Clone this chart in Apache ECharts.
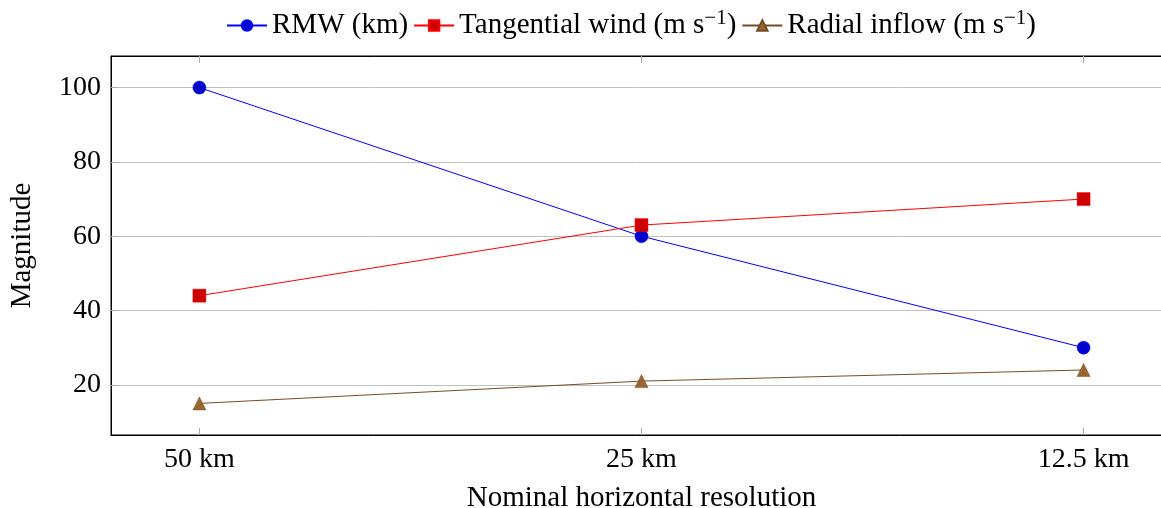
<!DOCTYPE html>
<html>
<head>
<meta charset="utf-8">
<script src="https://cdn.jsdelivr.net/npm/echarts@6/dist/echarts.min.js"></script>
<style>html,body{margin:0;padding:0;background:#fff;}#c{width:1161px;height:508px;}</style>
</head>
<body>
<div id="c"></div>
<script>
const categories = ['50 km', '25 km', '12.5 km'];
const rmw = [100, 60, 30];
const tangential = [44, 63, 70];
const radial = [15, 21, 24];
const yTicks = [20, 40, 60, 80, 100];
const xTicks = [0, 1, 2];

const FONT = 'Liberation Serif';
const chart = echarts.init(document.getElementById('c'));
const toPts = arr => arr.map((v, i) => [i, v]);
const rich = { sup: { fontFamily: FONT, fontSize: 21, color: '#000', verticalAlign: 'top', padding: [0, 0, 14, 0] } };

chart.setOption({
  animation: false,
  backgroundColor: '#fff',
  legend: {
    top: 3,
    left: 221,
    itemWidth: 40,
    itemHeight: 13,
    itemGap: 5,
    textStyle: { fontFamily: FONT, fontSize: 29, color: '#000', rich: rich },
    formatter: function (name) {
      if (name === 'RMW (km)') return name;
      return name.replace(' s)', ' s{sup|−1})');
    },
    data: ['RMW (km)', 'Tangential wind (m s)', 'Radial inflow (m s)']
  },
  grid: { left: 111, right: -11, top: 56, bottom: 73, show: true, borderColor: '#000', borderWidth: 1, backgroundColor: 'transparent', outerBoundsMode: 'none', containLabel: false },
  xAxis: [{
    type: 'value', min: -0.2, max: 2.2,
    name: 'Nominal horizontal resolution', nameLocation: 'middle', nameGap: 49,
    nameTextStyle: { fontFamily: FONT, fontSize: 29, color: '#000' },
    axisLine: { show: true, onZero: false, lineStyle: { color: '#000', width: 1 } },
    axisTick: { show: true, inside: true, length: 7, customValues: xTicks, lineStyle: { color: '#aaa' } },
    axisLabel: { customValues: xTicks, fontFamily: FONT, fontSize: 28, color: '#000', margin: 11,
      formatter: v => categories[Math.round(v)] },
    splitLine: { show: false }
  }, {
    type: 'value', min: -0.2, max: 2.2, position: 'top',
    axisLine: { show: true, onZero: false, lineStyle: { color: '#000', width: 1 } },
    axisTick: { show: true, inside: true, length: 7, customValues: xTicks, lineStyle: { color: '#aaa' } },
    axisLabel: { show: false },
    splitLine: { show: false }
  }],
  yAxis: {
    type: 'value', min: 6.5, max: 108.5,
    name: 'Magnitude', nameLocation: 'middle', nameGap: 74, nameRotate: 90,
    nameTextStyle: { fontFamily: FONT, fontSize: 29, color: '#000' },
    axisLine: { show: true, onZero: false, lineStyle: { color: '#000', width: 1 } },
    axisTick: { show: true, inside: true, length: 7, customValues: yTicks, lineStyle: { color: '#aaa' } },
    axisLabel: { customValues: yTicks, fontFamily: FONT, fontSize: 28, color: '#000', margin: 10 },
    splitLine: { show: true, lineStyle: { color: '#c0c0c0', width: 1 } }
  },
  series: [{
    name: 'RMW (km)', type: 'line', data: toPts(rmw),
    symbol: 'circle', symbolSize: 13,
    lineStyle: { color: '#0000ff', width: 1 },
    itemStyle: { color: '#0000cc', borderColor: '#0000ff', borderWidth: 0.5 }
  }, {
    name: 'Tangential wind (m s)', type: 'line', data: toPts(tangential),
    symbol: 'rect', symbolSize: 13,
    lineStyle: { color: '#ff0000', width: 1 },
    itemStyle: { color: '#cc0000', borderColor: '#ff0000', borderWidth: 0.5 }
  }, {
    name: 'Radial inflow (m s)', type: 'line', data: toPts(radial),
    symbol: 'triangle', symbolSize: 13,
    lineStyle: { color: '#734d26', width: 1 },
    itemStyle: { color: '#996633', borderColor: '#734d26', borderWidth: 0.5 }
  }]
});
</script>
</body>
</html>
